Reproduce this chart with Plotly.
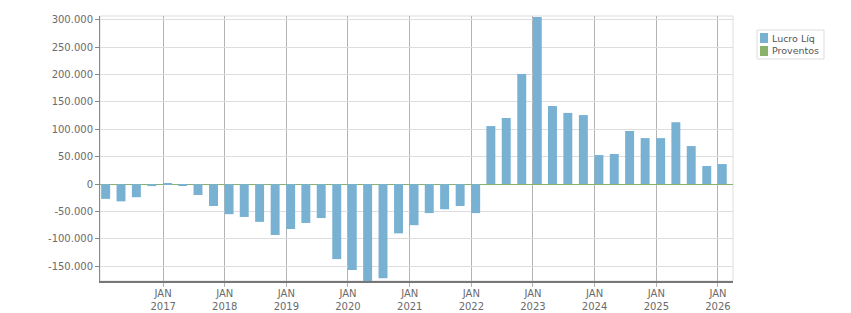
import plotly.graph_objects as go

quarters = [
    "2015-12-31", "2016-03-31", "2016-06-30", "2016-09-30", "2016-12-31",
    "2017-03-31", "2017-06-30", "2017-09-30", "2017-12-31",
    "2018-03-31", "2018-06-30", "2018-09-30", "2018-12-31",
    "2019-03-31", "2019-06-30", "2019-09-30", "2019-12-31",
    "2020-03-31", "2020-06-30", "2020-09-30", "2020-12-31",
    "2021-03-31", "2021-06-30", "2021-09-30", "2021-12-31",
    "2022-03-31", "2022-06-30", "2022-09-30", "2022-12-31",
    "2023-03-31", "2023-06-30", "2023-09-30", "2023-12-31",
    "2024-03-31", "2024-06-30", "2024-09-30", "2024-12-31",
    "2025-03-31", "2025-06-30", "2025-09-30", "2025-12-31",
]
lucro_liq = [
    -27000, -31600, -24000, -3700, 2000,
    -3500, -20000, -40000, -55000,
    -60000, -69000, -93000, -82000,
    -71000, -62000, -137000, -157000,
    -180000, -172000, -90000, -75000,
    -53000, -46000, -40000, -53000,
    106000, 120700, 201000, 305000,
    142600, 130000, 126000, 53000,
    55000, 97000, 84000, 84000,
    113000, 69500, 33000, 36600,
]
proventos = [0] * len(quarters)

series_names = ["Lucro Líq", "Proventos"]
series_colors = ["#79b1d3", "#8bb26a"]

y_tickvals = [-150000, -100000, -50000, 0, 50000, 100000, 150000, 200000, 250000, 300000]
y_ticktext = ["-150.000", "-100.000", "-50.000", "0", "50.000", "100.000",
              "150.000", "200.000", "250.000", "300.000"]
x_tickvals = ["2017-01-01", "2018-01-01", "2019-01-01", "2020-01-01", "2021-01-01",
              "2022-01-01", "2023-01-01", "2024-01-01", "2025-01-01", "2026-01-01"]
x_ticktext = ["JAN<br>2017", "JAN<br>2018", "JAN<br>2019", "JAN<br>2020", "JAN<br>2021",
              "JAN<br>2022", "JAN<br>2023", "JAN<br>2024", "JAN<br>2025", "JAN<br>2026"]

DAY = 86400000
bar_w = 53 * DAY

fig = go.Figure()
fig.add_trace(go.Bar(
    x=quarters, y=lucro_liq, name=series_names[0],
    marker=dict(color=series_colors[0], line=dict(width=0)),
    width=bar_w, offset=0, showlegend=False,
))
fig.add_trace(go.Bar(
    x=quarters, y=proventos, name=series_names[1],
    marker=dict(color=series_colors[1], line=dict(width=0)),
    width=bar_w, offset=0, showlegend=False,
))

# plot area in pixels
L, R, T, B = 100, 733, 16, 281
W, H = R - L, B - T
def px(x):
    return (x - L) / W
def py(y):
    return (B - y) / H

shapes = [
    dict(type="rect", xref="paper", yref="paper", x0=0, x1=1, y0=0, y1=1,
         line=dict(color="#dddddd", width=1), layer="below"),
    # legend box
    dict(type="rect", xref="paper", yref="paper", x0=px(757), x1=px(824), y0=py(59), y1=py(30),
         line=dict(color="#dddddd", width=1), fillcolor="white"),
]
annotations = []
for i, (nm, col) in enumerate(zip(series_names, series_colors)):
    top = 33 + i * 13
    shapes.append(dict(type="rect", xref="paper", yref="paper",
                       x0=px(760), x1=px(768), y0=py(top + 10), y1=py(top),
                       line=dict(width=0), fillcolor=col))
    annotations.append(dict(xref="paper", yref="paper", x=px(770), y=py(top + 5),
                            xanchor="left", yanchor="middle", showarrow=False,
                            text=nm, font=dict(size=9.5, color="#555555")))

font_family = "DejaVu Sans"
fig.update_layout(
    width=851, height=313,
    margin=dict(l=L, r=851 - R, t=T, b=313 - B, autoexpand=False),
    paper_bgcolor="white", plot_bgcolor="white",
    barmode="overlay",
    font=dict(family=font_family, size=10, color="#6b6b6b"),
    showlegend=False,
    xaxis=dict(
        type="date",
        range=["2015-12-24", "2026-03-31"],
        tickvals=x_tickvals, ticktext=x_ticktext,
        showgrid=True, gridcolor="#b4b4b4", gridwidth=1,
        showline=True, linecolor="#777777", linewidth=2,
        ticks="outside", ticklen=4, tickcolor="#b4b4b4", tickwidth=1,
        ticklabelstandoff=-2,
        mirror=False, zeroline=False,
    ),
    yaxis=dict(
        range=[-177000, 307000],
        tickvals=y_tickvals, ticktext=y_ticktext,
        showgrid=True, gridcolor="#dddddd", gridwidth=1,
        showline=True, linecolor="#888888", linewidth=1,
        ticks="outside", ticklen=4, tickcolor="#888888",
        zeroline=True, zerolinecolor="#8bb26a", zerolinewidth=1,
    ),
    shapes=shapes,
    annotations=annotations,
)

fig.write_html("out.html")
